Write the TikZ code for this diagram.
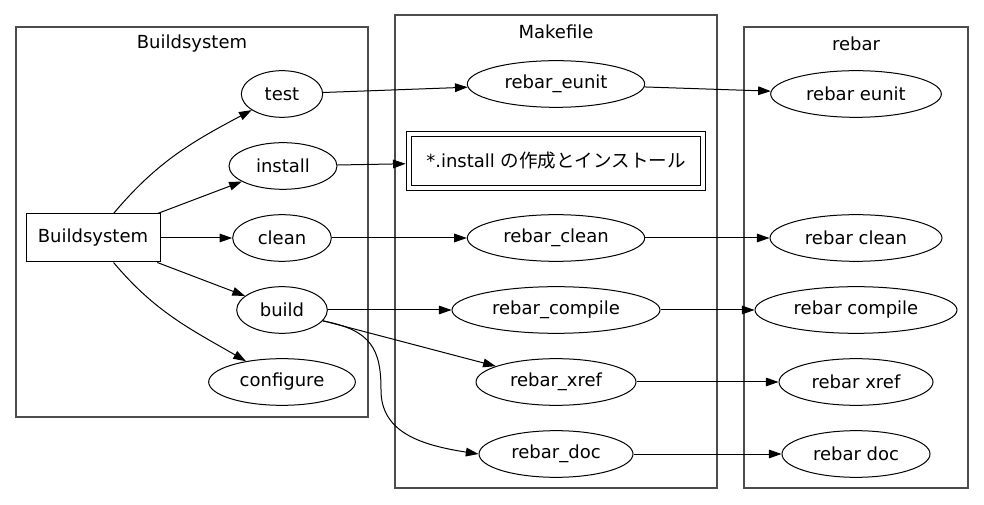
\documentclass[tikz,border=0pt]{standalone}
\usepackage{fontspec}
\setmainfont{DejaVu Sans}
\newfontfamily\jpfont[Scale=1.03]{Noto Sans CJK JP}
\usetikzlibrary{arrows.meta,shapes.geometric}

\tikzset{
  cluster/.style={draw=black!70, line width=1pt},
  title/.style={font=\fontsize{13.5}{16}\selectfont},
  task/.style={ellipse, draw, minimum height=35pt, inner sep=0pt,
    font=\fontsize{13.5}{16}\selectfont},
  box/.style={rectangle, draw, inner sep=0pt,
    font=\fontsize{13.5}{16}\selectfont},
}

\begin{document}
\begin{tikzpicture}[x=0.75pt,y=-0.75pt,line width=0.75pt,
    >={Triangle[length=9.5pt,width=6.5pt]}]
    \useasboundingbox (0,0) rectangle (984,505);

    % clusters
    \draw[cluster] (16,27)  rectangle (368,417);
    \draw[cluster] (395,15) rectangle (717,488);
    \draw[cluster] (744,27) rectangle (968,488);
    \node[title] (tbuild) at (192,44) {Buildsystem};
    \node[title] (tmake)  at (556,32) {Makefile};
    \node[title] (trebar) at (856,44) {rebar};

    % Buildsystem
    \node[box, minimum width=100.5pt, minimum height=36pt] (bsys) at (93,238) {Buildsystem};
    \node[task, minimum width=61pt]  (test)  at (282,94)  {test};
    \node[task, minimum width=81pt]  (inst)  at (283,166) {install};
    \node[task, minimum width=74pt]  (clean) at (282,238) {clean};
    \node[task, minimum width=68pt]  (build) at (282,310) {build};
    \node[task, minimum width=110pt] (conf)  at (282,382) {configure};

    % Makefile
    \node[task, minimum width=133pt] (meunit)   at (556,84)  {rebar\_eunit};
    \node[box, double, double distance=3pt, outer sep=2.25pt,
      minimum width=221pt, minimum height=40.5pt] (minst) at (556,161)
      {*.install\ {\jpfont の作成とインストール}};
    \node[task, minimum width=133pt] (mclean)   at (556,238) {rebar\_clean};
    \node[task, minimum width=156pt] (mcompile) at (556,310) {rebar\_compile};
    \node[task, minimum width=120pt] (mxref)    at (556,382) {rebar\_xref};
    \node[task, minimum width=115.5pt] (mdoc)   at (556,454) {rebar\_doc};

    % rebar
    \node[task, minimum width=128pt]   (reunit)   at (856,94)  {rebar eunit};
    \node[task, minimum width=129pt]   (rclean)   at (856,238) {rebar clean};
    \node[task, minimum width=151.5pt] (rcompile) at (856,310) {rebar compile};
    \node[task, minimum width=115.5pt] (rxref)    at (856,382) {rebar xref};
    \node[task, minimum width=111pt]   (rdoc)     at (856,454) {rebar doc};

    \draw[->] (bsys) to[out=50,in=208] (test);
    \draw[->] (bsys) -- (inst);
    \draw[->] (bsys) -- (clean);
    \draw[->] (bsys) -- (build);
    \draw[->] (bsys) to[out=-50,in=150] (conf);

    \draw[->] (test)  -- (meunit);
    \draw[->] (inst)  -- (minst);
    \draw[->] (clean) -- (mclean);
    \draw[->] (build) -- (mcompile);
    \draw[->] (build) -- (mxref);
    \draw[->] (build.-15) .. controls (372,330) and (381,350) .. (381,390)
      .. controls (381,432) and (420,445) .. (mdoc.west);

    \draw[->] (meunit)   -- (reunit);
    \draw[->] (mclean)   -- (rclean);
    \draw[->] (mcompile) -- (rcompile);
    \draw[->] (mxref)    -- (rxref);
    \draw[->] (mdoc)     -- (rdoc);
\end{tikzpicture}
\end{document}
